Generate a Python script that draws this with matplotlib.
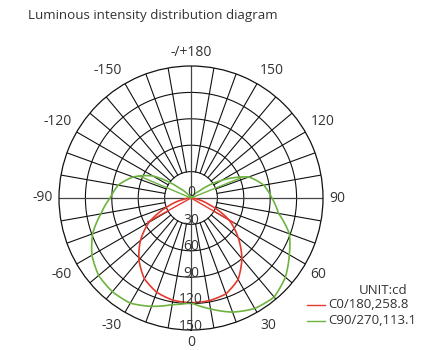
import numpy as np
import matplotlib.pyplot as plt
from matplotlib.lines import Line2D

# angles in degrees, 0 pointing down, positive to the right
red_angles = [-90, -80, -70, -60, -50, -40, -30, -20, -10, 0,
              10, 20, 30, 40, 50, 60, 70, 80, 90]
red_values = [0, 8, 28, 55, 75, 92, 106, 114, 118, 119,
              118.5, 116, 107, 90, 70, 50, 22, 6, 0]

green_angles = list(range(-180, 181, 10))
green_values = [0, 0, 0, 0, 5, 18, 50, 70, 84, 92, 104, 119, 130, 137, 139,
                138, 131, 123, 119, 128, 138, 145, 147, 140, 129, 119, 101,
                92, 84, 70, 40, 12, 4, 0, 0, 0, 0]

# the short straight strokes drawn from the centre out to each curve
red_stroke_angles = [-61, 60]
red_stroke_values = [56, 56]
green_stroke_angles = [-113, 112]
green_stroke_values = [64, 62]

ring_values = [30, 60, 90, 120, 150]
ring_labels = ['0', '30', '60', '90', '120', '150']
theta_ticks = [0, 30, 60, 90, 120, 150, 180, -150, -120, -90, -60, -30]
theta_labels = ['0', '30', '60', '90', '120', '150', '-/+180',
                '-150', '-120', '-90', '-60', '-30']

legend_names = ['C0/180,258.8', 'C90/270,113.1']
red = '#e53a2f'
green = '#6db33f'
text_col = '#333333'

plt.rcParams['font.family'] = ['Open Sans', 'DejaVu Sans']

fig = plt.figure(figsize=(4.41, 3.5), dpi=100)
ax = fig.add_axes([59 / 441, 20 / 350, 264 / 441, 264 / 350], projection='polar')
ax.set_theta_zero_location('S')
ax.set_theta_direction(1)
ax.set_ylim(0, 150)
ax.grid(False)
ax.set_xticks([])
ax.set_yticks([])
ax.spines['polar'].set_linewidth(0.9)
ax.spines['polar'].set_color('#111111')

# grid: rings and 10 degree spokes
t = np.linspace(0, 2 * np.pi, 400)
for r in ring_values[:-1]:
    ax.plot(t, np.full_like(t, r), color='#111111', lw=0.8)
for a in range(0, 360, 10):
    if a % 90 == 0:
        ax.plot([np.radians(a)] * 2, [0, 150], color='#444444', lw=0.9)
    else:
        ax.plot([np.radians(a)] * 2, [30, 150], color='#111111', lw=0.8)

# curves (let the polar transform bend the segments)
for angs, vals, col in [(red_angles, red_values, red),
                        (green_angles, green_values, green)]:
    line, = ax.plot(np.radians(angs), vals, color=col, lw=1.2, zorder=5)
    line.get_path()._interpolation_steps = 30
for a, v in zip(red_stroke_angles, red_stroke_values):
    ax.plot([np.radians(a)] * 2, [0, v], color=red, lw=1.0, zorder=5)
for a, v in zip(green_stroke_angles, green_stroke_values):
    ax.plot([np.radians(a)] * 2, [0, v], color=green, lw=1.0, zorder=5)

# angle labels, anchored by their near corner just outside the rim
for a, lab in zip(theta_ticks, theta_labels):
    s, c = np.sin(np.radians(a)), -np.cos(np.radians(a))
    if a == 0:
        ax.text(0, 168, lab, ha='center', va='baseline', fontsize=10,
                color=text_col, clip_on=False)
        continue
    ha = 'center' if abs(s) < 0.1 else ('left' if s > 0 else 'right')
    va = 'center' if abs(c) < 0.1 else ('bottom' if c > 0 else 'top')
    ax.text(np.radians(a), 157, lab, ha=ha, va=va, fontsize=10,
            color=text_col, clip_on=False)

# ring labels along the downward axis, the "0" just above the centre
ax.text(np.pi, 6, ring_labels[0], ha='center', va='center', fontsize=10,
        color=text_col, zorder=6)
for r, lab in zip(ring_values, ring_labels[1:]):
    ax.text(0, r - 4.5, lab, ha='center', va='center', fontsize=10,
            color=text_col, zorder=6)

fig.text(28 / 441, 1 - 16 / 350, 'Luminous intensity distribution diagram',
         ha='left', va='center', fontsize=9.6, color=text_col)

# legend
fig.text(383 / 441, 1 - 290 / 350, 'UNIT:cd', ha='center', va='center',
         fontsize=9.5, color=text_col)
for i, (name, col) in enumerate(zip(legend_names, [red, green])):
    y = 1 - (305 + 16 * i) / 350
    fig.add_artist(Line2D([307 / 441, 325 / 441], [y, y], color=col, lw=1.0))
    fig.text(328 / 441, y, name, ha='left', va='center', fontsize=9.5,
             color=text_col)

fig.savefig('out.png', dpi=100)
